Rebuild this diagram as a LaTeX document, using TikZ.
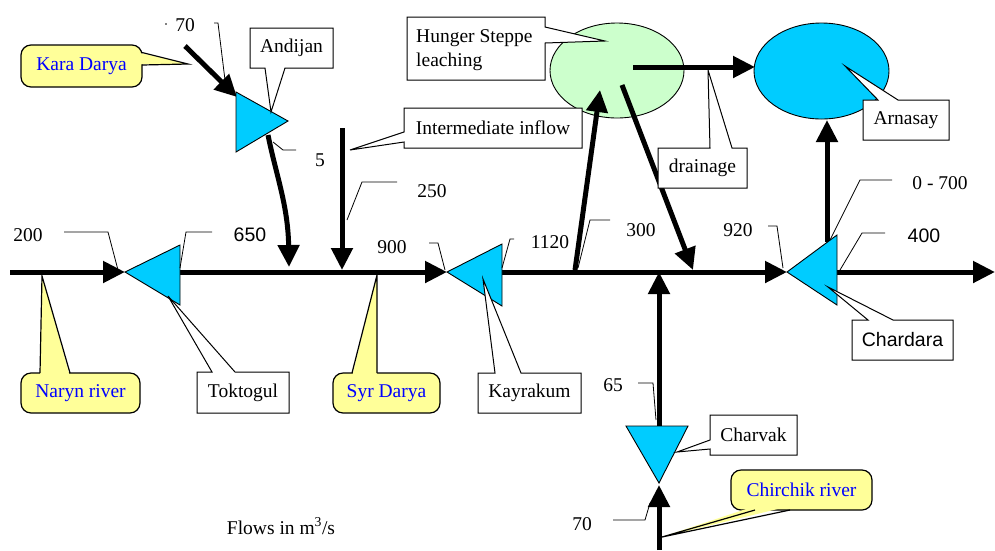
\documentclass[tikz,border=0pt]{standalone}
\usepackage{fontspec}
\setmainfont{Liberation Serif}
\newfontfamily\arialf{Liberation Sans}
\usetikzlibrary{arrows.meta,shapes.geometric}
\definecolor{resv}{HTML}{00CCFF}
\definecolor{leach}{HTML}{CCFFCC}
\definecolor{note}{HTML}{FFFF99}
\definecolor{bluetext}{HTML}{0000FF}
\begin{document}
\begin{tikzpicture}[x=1pt,y=-1pt,
  flow/.style={line width=5pt,-{Triangle[length=22pt,width=21pt]}},
  lead/.style={line width=0.8pt},
  tri/.style={fill=resv,draw=black,line width=0.9pt,line join=miter},
  lbl/.style={font=\fontsize{19.5}{24}\selectfont,inner sep=0pt},
  slbl/.style={font=\arialf\fontsize{19.5}{24}\selectfont,inner sep=0pt},
  wbox/.style={fill=white,draw=black,line width=1pt},
  ybox/.style={fill=note,draw=black,line width=1.2pt,rounded corners=10pt,
     inner sep=0pt,text=bluetext,font=\fontsize{19.5}{24}\selectfont},
  wedge/.style={fill=note},
  wedgeline/.style={draw=black,line width=1.2pt}
]
\useasboundingbox (0,0) rectangle (995,550);

% ---- key coordinates
\coordinate (nStart) at (10,272);
\coordinate (tokTip) at (125,272);
\coordinate (tokBase) at (180,272);
\coordinate (kayTip) at (447,272);
\coordinate (kayBase) at (502,272);
\coordinate (chaTip) at (787,272);
\coordinate (chaBase) at (837,272);
\coordinate (sEnd) at (995,272);
\coordinate (karaStart) at (185,46);
\coordinate (andIn) at (237,97);
\coordinate (andOut) at (268,135);
\coordinate (andMain) at (289,267);
\coordinate (interTop) at (342,128);
\coordinate (interMain) at (342,270);
\coordinate (hsOutMain) at (575,270);
\coordinate (hsIn) at (600,90);
\coordinate (hsOut) at (622,85);
\coordinate (hsBack) at (693,270);
\coordinate (drStart) at (633,67);
\coordinate (drEnd) at (755,67);
\coordinate (chaUp) at (827,242);
\coordinate (arnIn) at (827,120);
\coordinate (chvTop) at (659,426);
\coordinate (chvMain) at (659,272);
\coordinate (chirStart) at (659,550);
\coordinate (chvTip) at (659,485);

% ---- reservoirs (ellipses)
\node[ellipse,draw=black,line width=0.9pt,fill=leach,minimum width=134pt,minimum height=95pt,inner sep=0pt] (hunger) at (617,70.5) {};
\node[ellipse,draw=black,line width=0.9pt,fill=resv,minimum width=135pt,minimum height=96pt,inner sep=0pt] (arnasay) at (821.5,71) {};

% ---- flows
\draw[flow] (nStart) -- (tokTip);
\draw[flow] (tokBase) -- (kayTip);
\draw[flow] (kayBase) -- (chaTip);
\draw[flow] (chaBase) -- (sEnd);
\draw[flow] (karaStart) -- (andIn);
\draw[flow] (andOut) .. controls (276,175) and (288,205) .. (andMain);
\draw[flow] (interTop) -- (interMain);
\draw[flow] (hsOutMain) -- (hsIn);
\draw[flow] (hsOut) -- (hsBack);
\draw[flow] (drStart) -- (drEnd);
\draw[flow] (chaUp) -- (arnIn);
\draw[flow] (chvTop) -- (chvMain);
\draw[flow] (chirStart) -- (chvTip);

% ---- dams (triangles)
\path[tri] (236,92) -- (288,121) -- (236,152) -- cycle;
\path[tri] (tokTip) -- (180,245) -- (180,305) -- cycle;
\path[tri] (kayTip) -- (502,244) -- (502,306) -- cycle;
\path[tri] (chaTip) -- (837,235) -- (837,305) -- cycle;
\path[tri] (626,426) -- (688,426) -- (659,483) -- cycle;

% ---- white callouts
\path[wbox] (250,28) -- (333,28) -- (333,68) -- (285,68) -- (271,112) -- (265,68) -- (250,68) -- cycle;
\node[lbl] (andijan) at (291.5,48) {Andijan};

\path[wbox] (404,108) -- (582,108) -- (582,148) -- (404,148) -- (404,142) -- (350,150) -- (404,132) -- cycle;
\node[lbl] (inter) at (493,128) {Intermediate inflow};

\path[wbox] (407,17) -- (545,17) -- (545,27) -- (605,41) -- (545,43) -- (545,80) -- (407,80) -- cycle;
\node[lbl,align=left,anchor=west] (hsl) at (416,50) {Hunger Steppe\\leaching};

\path[wbox] (658,148) -- (710,148) -- (708,70) -- (732,148) -- (747,148) -- (747,188) -- (658,188) -- cycle;
\node[lbl] (drain) at (702.5,168) {drainage};

\path[wbox] (863,100) -- (878,100) -- (845,66) -- (898,100) -- (949,100) -- (949,140) -- (863,140) -- cycle;
\node[lbl] (arnl) at (906,120) {Arnasay};

\path[wbox] (197,372) -- (212,372) -- (168,296) -- (235,372) -- (289,372) -- (289,413) -- (197,413) -- cycle;
\node[lbl] (tok) at (243,393) {Toktogul};

\path[wbox] (478,373) -- (495,373) -- (483,279) -- (521,373) -- (581,373) -- (581,413) -- (478,413) -- cycle;
\node[lbl] (kay) at (529.5,393) {Kayrakum};

\path[wbox] (852,320) -- (868,320) -- (828,287) -- (893,320) -- (953,320) -- (953,360) -- (852,360) -- cycle;
\node[slbl] (chal) at (902.5,340) {Chardara};

\path[wbox] (710,415) -- (797,415) -- (797,455) -- (710,455) -- (710,449) -- (677,452) -- (710,440) -- cycle;
\node[lbl] (chv) at (753.5,435) {Charvak};

% ---- yellow callouts
\node[ybox,minimum width=121pt,minimum height=42pt] (kara) at (81.5,66) {Kara Darya};
\fill[wedge] (138,52.5) -- (188,64) -- (138,64.5) -- cycle;
\draw[wedgeline] (142,52.5) -- (188,64) -- (142,65);

\node[ybox,minimum width=119pt,minimum height=40pt] (naryn) at (80.5,393) {Naryn river};
\fill[wedge] (40,377) -- (42,276) -- (70,377) -- cycle;
\draw[wedgeline] (40,373) -- (42,276) -- (70,373);

\node[ybox,minimum width=107pt,minimum height=40pt] (syr) at (386.5,393) {Syr Darya};
\fill[wedge] (352,377) -- (377,275) -- (377,377) -- cycle;
\draw[wedgeline] (352,373) -- (377,275) -- (377,373);

\node[ybox,minimum width=141pt,minimum height=40pt] (chir) at (801.5,490) {Chirchik river};
\fill[wedge] (755,506) -- (662,537) -- (790,506) -- cycle;
\draw[wedgeline] (755,510) -- (662,537) -- (790,510);

% ---- flow numbers with leaders
\draw[lead] (64,232) -- (108,232) -- (118,270);
\node[lbl] (n200) at (28,235) {200};
\draw[lead] (212,232) -- (186,232) -- (180,268);
\node[slbl] (n650) at (250,235) {650};
\fill (166,24) circle (0.8);
\draw[lead] (214,23) -- (218,23) -- (225,80);
\node[lbl] (n70a) at (185,25) {70};
\draw[lead] (296,150) -- (283,150) -- (273,142);
\node[lbl] (n5) at (320,160) {5};
\draw[lead] (397,182) -- (362,182) -- (347,220);
\node[lbl] (n250) at (432,191) {250};
\draw[lead] (429,243) -- (438,243) -- (445,270);
\node[lbl] (n900) at (392,247) {900};
\draw[lead] (514,239) -- (510,239) -- (502,268);
\node[lbl] (n1120) at (550,242) {1120};
\draw[lead] (610,220) -- (590,220) -- (578,268);
\node[lbl] (n300) at (641,230) {300};
\draw[lead] (768,226) -- (777,226) -- (783,268);
\node[lbl] (n920) at (738,230) {920};
\draw[lead] (892,180) -- (860,180) -- (830,240);
\node[lbl] (n0700) at (940,183) {0 - 700};
\draw[lead] (885,233) -- (862,233) -- (840,270);
\node[slbl] (n400) at (924,236) {400};
\draw[lead] (638,383) -- (653,383) -- (656,420);
\node[lbl] (n65) at (613,385) {65};
\draw[lead] (613,520) -- (645,520) -- (650,503);
\node[lbl] (n70b) at (582,524) {70};

\node[lbl] (units) at (281,526) {Flows in m\textsuperscript{3}/s};
\end{tikzpicture}
\end{document}
